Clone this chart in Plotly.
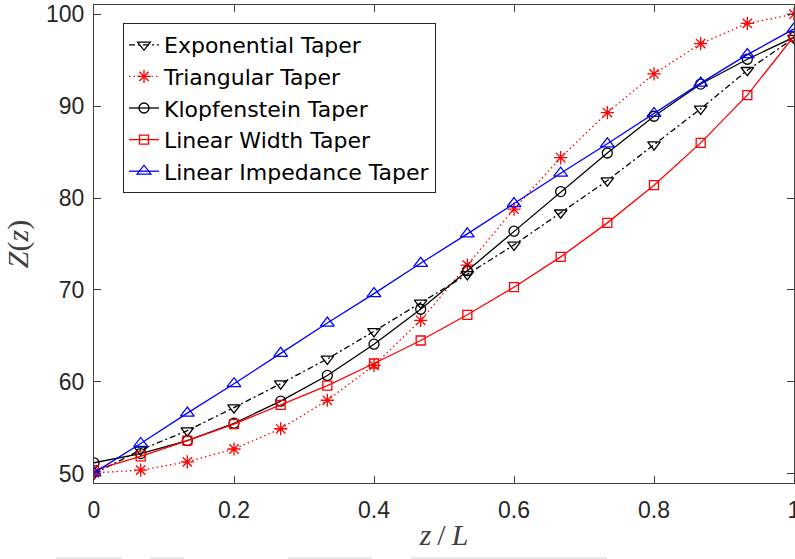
import plotly.graph_objects as go

# Normalised position along the taper (16 samples, step 1/15)
z_over_L = [i / 15 for i in range(16)]

# Impedance profiles Z(z) in ohms
exponential = [50.0, 52.6, 54.7, 57.2, 59.8, 62.5, 65.5, 68.6, 71.7, 74.9,
               78.4, 81.9, 85.8, 89.7, 93.9, 97.4]
triangular = [50.1, 50.4, 51.3, 52.7, 54.9, 58.0, 61.8, 66.7, 72.7, 78.8,
              84.4, 89.3, 93.5, 96.8, 99.0, 100.0]
klopfenstein = [51.2, 52.2, 53.6, 55.5, 57.9, 60.7, 64.1, 67.9, 72.1, 76.4,
                80.7, 84.9, 88.9, 92.4, 95.1, 97.5]
linear_width = [50.4, 51.9, 53.6, 55.4, 57.5, 59.6, 62.0, 64.5, 67.3, 70.3,
                73.6, 77.3, 81.4, 86.0, 91.2, 97.6]
linear_impedance = [50.1, 53.3, 56.6, 59.8, 63.1, 66.4, 69.6, 72.9, 76.1, 79.4,
                    82.7, 85.9, 89.2, 92.5, 95.6, 98.4]

x_ticks = [0, 0.2, 0.4, 0.6, 0.8, 1]
x_tick_labels = ["0", "0.2", "0.4", "0.6", "0.8", "1"]
y_ticks = [50, 60, 70, 80, 90, 100]

series = [
    ("Exponential Taper", exponential, "black", "6px,3px,2px,3px", "triangle-down-open", 11),
    ("Triangular Taper", triangular, "red", "1.5px,3px", "asterisk-open", 11),
    ("Klopfenstein Taper", klopfenstein, "black", "solid", "circle-open", 10),
    ("Linear Width Taper", linear_width, "red", "solid", "square-open", 9),
    ("Linear Impedance Taper", linear_impedance, "blue", "solid", "triangle-up-open", 12),
]

fig = go.Figure()
for name, values, color, dash, symbol, msize in series:
    fig.add_trace(go.Scatter(
        x=z_over_L, y=values, name=name, mode="lines+markers",
        line=dict(color=color, width=1.3, dash=dash),
        marker=dict(symbol=symbol, size=msize, color=color,
                    line=dict(color=color, width=1.3)),
    ))

axis_color = "#404040"
tick_font = dict(family="Liberation Sans, Arial, sans-serif", size=23, color="#262626")
title_font = dict(family="Liberation Serif, Times New Roman, serif", size=30, color="#404040")

fig.update_xaxes(
    range=[0, 1], tickvals=x_ticks, ticktext=x_tick_labels, automargin=False,
    showline=True, linecolor=axis_color, linewidth=1, mirror="ticks",
    ticks="inside", ticklen=7, tickcolor=axis_color, showgrid=False, zeroline=False,
    tickfont=tick_font, ticklabelstandoff=6, ticklabeloverflow="allow",
    title=dict(text="<i>z</i>\u2009/\u2009<i>L</i>", standoff=2, font=title_font),
)
fig.update_yaxes(
    range=[49, 101], tickvals=y_ticks, automargin=False,
    showline=True, linecolor=axis_color, linewidth=1, mirror="ticks",
    ticks="inside", ticklen=7, tickcolor=axis_color, showgrid=False, zeroline=False,
    tickfont=tick_font, ticklabelstandoff=4,
    title=dict(text="<i>Z</i>(<i>z</i>)", standoff=8, font=title_font),
)

# faint grey strokes along the bottom edge of the page
for x0, x1 in [(56, 122), (150, 184), (288, 372), (411, 607)]:
    fig.add_shape(type="rect", xref="paper", yref="paper",
                  x0=(x0 - 94) / 700, x1=(x1 - 94) / 700,
                  y0=(483 - 559) / 478, y1=(483 - 557) / 478,
                  line=dict(width=0), fillcolor="#e8e8e8", layer="below")

fig.update_layout(
    width=795, height=559,
    margin=dict(l=94, r=1, t=5, b=76, autoexpand=False),
    paper_bgcolor="white", plot_bgcolor="white",
    showlegend=True,
    legend=dict(
        x=(123 - 94) / 700, y=(483 - 23) / 478, xanchor="left", yanchor="top",
        bgcolor="white", bordercolor="#262626", borderwidth=1,
        font=dict(family="DejaVu Sans, sans-serif", size=22, color="black"),
        itemwidth=30, tracegroupgap=0,
    ),
)

fig.write_html("out.html")
